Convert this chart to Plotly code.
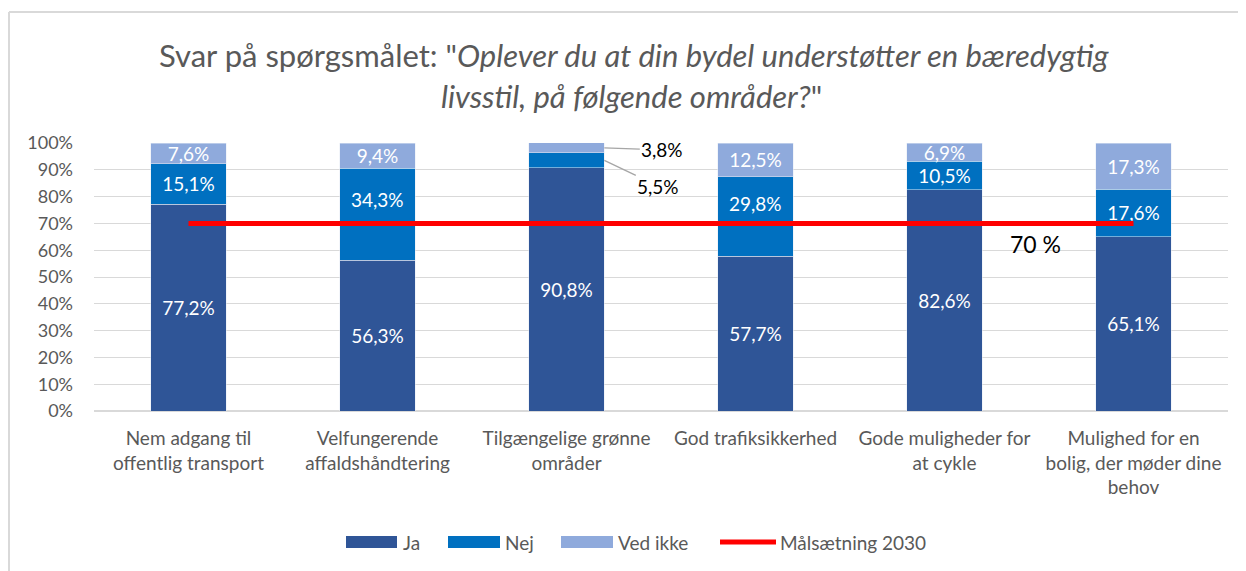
import plotly.graph_objects as go

categories = [
    "Nem adgang til<br>offentlig transport",
    "Velfungerende<br>affaldshåndtering",
    "Tilgængelige grønne<br>områder",
    "God trafiksikkerhed",
    "Gode muligheder for<br>at cykle",
    "Mulighed for en<br>bolig, der møder dine<br>behov",
]
ja = [77.2, 56.3, 90.8, 57.7, 82.6, 65.1]
nej = [15.1, 34.3, 5.5, 29.8, 10.5, 17.6]
ved_ikke = [7.6, 9.4, 3.8, 12.5, 6.9, 17.3]
target = [70, 70, 70, 70, 70, 70]
y_ticks = [0, 10, 20, 30, 40, 50, 60, 70, 80, 90, 100]
series_names = ["Ja", "Nej", "Ved ikke", "Målsætning 2030"]
series_colors = ["#2F5597", "#0070C0", "#8FAADC", "#FF0000"]

FONT = "Lato"
GRAY = "#595959"
BAR_W = 0.4

# page-pixel geometry helpers (page has 8px body margin)
PLOT_L, PLOT_R, PLOT_T, PLOT_B = 94, 1228, 143, 411
PW, PH = PLOT_R - PLOT_L, PLOT_B - PLOT_T
def px(x):
    return (x - PLOT_L) / PW
def py(y):
    return (PLOT_B - y) / PH

def fmt(v):
    return f"{v:.1f}%".replace(".", ",")

outside_idx = 2          # small segments labelled outside with leader lines
raised_idx = [1, 3]      # Nej labels moved up to clear the target line

ja_txt = [fmt(v) for v in ja]
nej_txt = [fmt(v) if i not in [outside_idx] + raised_idx else "" for i, v in enumerate(nej)]
vi_txt = [fmt(v) if i != outside_idx else "" for i, v in enumerate(ved_ikke)]

fig = go.Figure()
common = dict(textposition="inside", insidetextanchor="middle", constraintext="none",
              textangle=0, textfont=dict(color="white", size=19, family=FONT),
              width=BAR_W, hoverinfo="skip", showlegend=False)
fig.add_bar(x=categories, y=ja, name=series_names[0], marker_color=series_colors[0], text=ja_txt, **common)
fig.add_bar(x=categories, y=nej, name=series_names[1], marker_color=series_colors[1], text=nej_txt, **common)
fig.add_bar(x=categories, y=ved_ikke, name=series_names[2], marker_color=series_colors[2], text=vi_txt, **common)
fig.add_scatter(x=categories, y=target, name=series_names[3], mode="lines", showlegend=False,
                line=dict(color=series_colors[3], width=5))

# raised Nej labels
for i in raised_idx:
    fig.add_annotation(x=i, y=ja[i] + nej[i] * 0.66, text=fmt(nej[i]), showarrow=False,
                       xanchor="center", yanchor="middle",
                       font=dict(size=19, color="white", family=FONT))

# outside labels with leader lines for bar 3
y_nej_mid = ja[outside_idx] + nej[outside_idx] / 2
y_vi_mid = ja[outside_idx] + nej[outside_idx] + ved_ikke[outside_idx] / 2
fig.add_annotation(x=outside_idx + BAR_W / 2, y=y_vi_mid, text=fmt(ved_ikke[outside_idx]),
                   showarrow=True, arrowhead=0, arrowwidth=1.3, arrowcolor="#A6A6A6",
                   ax=58, ay=2, xanchor="center",
                   font=dict(size=19, color="black", family=FONT))
fig.add_annotation(x=outside_idx + BAR_W / 2, y=y_nej_mid, text=fmt(nej[outside_idx]),
                   showarrow=True, arrowhead=0, arrowwidth=1.3, arrowcolor="#A6A6A6",
                   ax=54, ay=26, xanchor="center",
                   font=dict(size=19, color="black", family=FONT))
# target label
fig.add_annotation(x=4.48, y=62.3, text=f"{target[0]} %", showarrow=False,
                   xanchor="center", yanchor="middle",
                   font=dict(size=23, color="black", family=FONT))

# title (two lines)
fig.add_annotation(xref="paper", yref="paper", x=px(634), y=py(55),
                   xanchor="center", yanchor="middle",
                   text='Svar på spørgsmålet: "<i>Oplever du at din bydel understøtter en bæredygtig</i>',
                   showarrow=False, font=dict(size=31, color=GRAY, family=FONT))
fig.add_annotation(xref="paper", yref="paper", x=px(631), y=py(96),
                   xanchor="center", yanchor="middle",
                   text='<i>livsstil, på følgende områder?</i>"',
                   showarrow=False, font=dict(size=31, color=GRAY, family=FONT))

# custom legend (wide swatches like the original)
LEG_Y = 542
legend_items = [(346, 397, 401), (448, 500, 503), (561, 613, 616), (720, 776, 778)]
for (x0, x1, xt), name, color in zip(legend_items, series_names, series_colors):
    if name == series_names[3]:
        fig.add_shape(type="line", xref="paper", yref="paper", x0=px(x0), x1=px(x1),
                      y0=py(LEG_Y), y1=py(LEG_Y), line=dict(color=color, width=5))
    else:
        fig.add_shape(type="rect", xref="paper", yref="paper", x0=px(x0), x1=px(x1),
                      y0=py(LEG_Y - 6), y1=py(LEG_Y + 6), line=dict(width=0), fillcolor=color)
    fig.add_annotation(xref="paper", yref="paper", x=px(xt), y=py(LEG_Y),
                       xanchor="left", yanchor="middle",
                       text=name, showarrow=False, font=dict(size=19, color=GRAY, family=FONT))

# outer frame lines
fig.add_shape(type="line", xref="paper", yref="paper", x0=px(9), x1=px(1300),
              y0=py(12), y1=py(12), line=dict(color="#D9D9D9", width=2))
fig.add_shape(type="line", xref="paper", yref="paper", x0=px(9), x1=px(9),
              y0=py(12), y1=py(600), line=dict(color="#D9D9D9", width=2))

fig.update_layout(
    barmode="stack",
    width=1238, height=563,
    margin=dict(l=PLOT_L - 8, r=1246 - PLOT_R, t=PLOT_T - 8, b=571 - PLOT_B),
    plot_bgcolor="white", paper_bgcolor="white",
    font=dict(family=FONT, color=GRAY, size=16),
    showlegend=False,
    xaxis=dict(tickfont=dict(size=19, color=GRAY), showline=False, ticks="",
               ticklabelstandoff=14, fixedrange=True),
    yaxis=dict(range=[0, 100], tickvals=y_ticks, ticktext=[f"{v}%" for v in y_ticks],
               gridcolor="#D9D9D9", gridwidth=1, zeroline=True, zerolinecolor="#D9D9D9",
               tickfont=dict(size=18, color=GRAY), ticklabelstandoff=20),
)

fig.write_html("out.html")
